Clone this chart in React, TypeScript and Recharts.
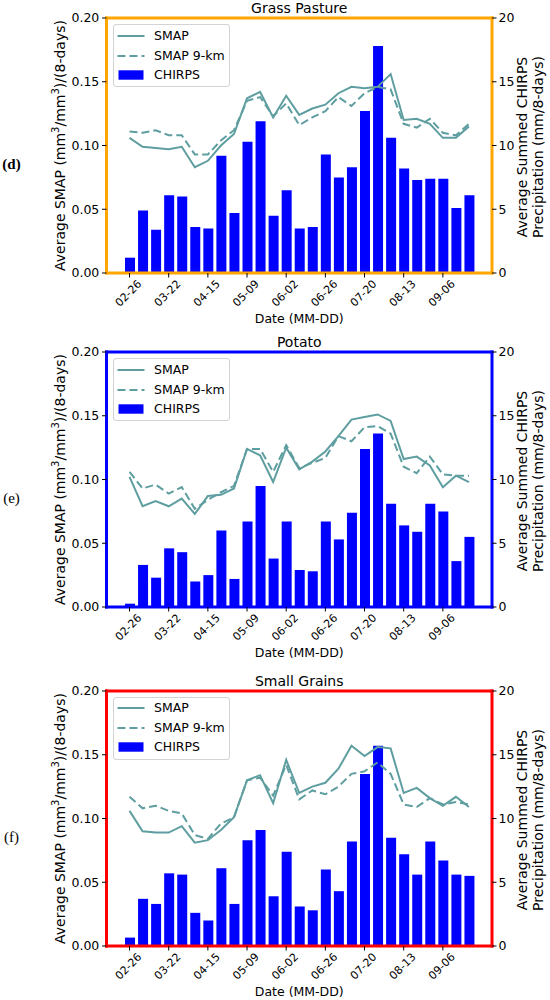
import React from 'react';
import { ComposedChart, Bar, Line, XAxis, YAxis, Legend, CartesianGrid } from 'recharts';

const dates = ['02-26','03-06','03-14','03-22','03-30','04-07','04-15','04-23','05-01','05-09','05-17','05-25','06-02','06-10','06-18','06-26','07-04','07-12','07-20','07-28','08-05','08-13','08-21','08-29','09-06','09-14','09-22'];

const smapD = [0.106,0.099,0.098,0.097,0.099,0.083,0.088,0.100,0.109,0.137,0.142,0.122,0.139,0.124,0.129,0.132,0.141,0.146,0.145,0.146,0.156,0.120,0.121,0.117,0.106,0.106,0.115];
const smap9D = [0.111,0.110,0.112,0.108,0.108,0.093,0.093,0.104,0.112,0.135,0.138,0.123,0.133,0.116,0.122,0.127,0.138,0.131,0.141,0.146,0.144,0.117,0.114,0.121,0.110,0.108,0.117];
const chirpsD = [1.2,4.9,3.4,6.1,6.0,3.6,3.5,9.2,4.7,10.3,11.9,4.5,6.5,3.5,3.6,9.3,7.5,8.3,12.7,17.8,10.6,8.2,7.3,7.4,7.4,5.1,6.1];

const smapE = [0.102,0.079,0.083,0.079,0.085,0.073,0.087,0.088,0.093,0.124,0.119,0.098,0.125,0.108,0.114,0.122,0.134,0.147,0.149,0.151,0.146,0.116,0.118,0.111,0.094,0.103,0.098];
const smap9E = [0.106,0.093,0.096,0.089,0.094,0.077,0.084,0.090,0.095,0.124,0.124,0.106,0.127,0.109,0.113,0.117,0.134,0.130,0.141,0.142,0.136,0.110,0.105,0.118,0.104,0.103,0.103];
const chirpsE = [0.26,3.3,2.3,4.6,4.3,2.0,2.5,6.0,2.2,6.7,9.5,3.8,6.7,2.9,2.8,6.7,5.3,7.4,12.4,13.6,8.1,6.4,5.9,8.1,7.5,3.6,5.5];

const smapF = [0.106,0.090,0.089,0.089,0.094,0.081,0.083,0.091,0.101,0.130,0.134,0.112,0.146,0.120,0.125,0.128,0.139,0.157,0.149,0.156,0.155,0.120,0.124,0.116,0.110,0.117,0.109];
const smap9F = [0.117,0.108,0.110,0.106,0.104,0.087,0.084,0.096,0.101,0.130,0.132,0.118,0.142,0.115,0.122,0.119,0.125,0.135,0.137,0.144,0.135,0.111,0.109,0.116,0.111,0.113,0.111];
const chirpsF = [0.66,3.7,3.3,5.7,5.6,2.6,2.0,6.1,3.3,8.3,9.1,3.9,7.4,3.1,2.8,6.0,4.3,8.2,13.5,15.7,8.5,7.2,5.6,8.2,6.7,5.6,5.5];

const leftTicks = [0, 0.05, 0.1, 0.15, 0.2];
const rightTicks = [0, 5, 10, 15, 20];
const seriesNames = ['SMAP', 'SMAP 9-km', 'CHIRPS'];

const W = 550;
const PLOT_TOP = 18;
const PLOT_H = 255;
const LEFT_W = 106.5;
const RIGHT_W = 58;
const XAXIS_H = 62;
const CH = PLOT_TOP + PLOT_H + XAXIS_H;
const PLOT_CX = (LEFT_W + (W - RIGHT_W)) / 2;
const LINE_COLOR = '#5F9EA0';
const BAR_COLOR = '#0000FF';
const FONT = 'DejaVu Sans';

const DateTick = (props: any) => {
  const { x, y, payload } = props;
  return (
    <g transform={`translate(${x},${y})`}>
      <text transform="translate(-1,16) rotate(-45)" textAnchor="middle" dominantBaseline="central" fontSize={11} fill="#000" fontFamily={FONT}>
        {payload.value}
      </text>
    </g>
  );
};

const XLabel = (props: any) => {
  const vb = props.viewBox || {};
  return (
    <text x={vb.x + vb.width / 2} y={vb.y + 50} textAnchor="middle" fontSize={12.5} fill="#000" fontFamily={FONT}>
      Date (MM-DD)
    </text>
  );
};

const makeLeftLabel = (letter: string, bold: boolean, title: string) => (props: any) => {
  const vb = props.viewBox || {};
  const cy = vb.y + vb.height / 2;
  return (
    <g>
      <text x={PLOT_CX} y={vb.y - 5.5} textAnchor="middle" fontSize={14} fill="#000" fontFamily={FONT}>
        {title}
      </text>
      <text transform={`translate(60,${cy}) rotate(-90)`} textAnchor="middle" dominantBaseline="central" fontSize={14} fill="#000" fontFamily={FONT}>
        Average SMAP (mm<tspan dy={-5} fontSize={10}>3</tspan><tspan dy={5}>/mm</tspan><tspan dy={-5} fontSize={10}>3</tspan><tspan dy={5}>)/(8-days)</tspan>
      </text>
      <text x={11.5} y={cy + 23} textAnchor="middle" fontSize={15} fontWeight={bold ? 'bold' : 'normal'} fill="#000" fontFamily="Liberation Serif">
        {letter}
      </text>
    </g>
  );
};

const RightLabel = (props: any) => {
  const vb = props.viewBox || {};
  const cy = vb.y + vb.height / 2 + 1.5;
  return (
    <g>
      <text transform={`translate(522,${cy}) rotate(-90)`} textAnchor="middle" dominantBaseline="central" fontSize={14} fill="#000" fontFamily={FONT}>
        Average Summed CHIRPS
      </text>
      <text transform={`translate(537.5,${cy}) rotate(-90)`} textAnchor="middle" dominantBaseline="central" fontSize={14} fill="#000" fontFamily={FONT}>
        Precipitation (mm/8-days)
      </text>
    </g>
  );
};

const LegendBox = () => {
  const rowTops = [0.5, 20.5, 39.8];
  return (
    <div style={{ position: 'relative', boxSizing: 'border-box', width: 117, height: 63, border: '1px solid #d3d3d3', borderRadius: 3, background: 'rgba(255,255,255,0.8)', fontFamily: FONT, fontSize: 12.5, color: '#000' }}>
      {seriesNames.map((name, i) => (
        <div key={name} style={{ position: 'absolute', left: 3, top: rowTops[i], height: 20, display: 'flex', alignItems: 'center' }}>
          <svg width={28} height={20} style={{ display: 'block' }}>
            {i === 0 && <line x1={0.5} x2={27.5} y1={10} y2={10} stroke={LINE_COLOR} strokeWidth={2} />}
            {i === 1 && <line x1={0.5} x2={27.5} y1={10} y2={10} stroke={LINE_COLOR} strokeWidth={2} strokeDasharray="8 4" />}
            {i === 2 && <rect x={1.5} y={5.3} width={25} height={9.4} fill={BAR_COLOR} />}
          </svg>
          <span style={{ marginLeft: 9, whiteSpace: 'nowrap', lineHeight: '20px' }}>{name}</span>
        </div>
      ))}
    </div>
  );
};

type PanelProps = {
  top: number; title: string; letter: string; bold: boolean; frame: string;
  smap: number[]; smap9: number[]; chirps: number[];
};

const Panel = ({ top, title, letter, bold, frame, smap, smap9, chirps }: PanelProps) => {
  const data = dates.map((d, i) => ({ date: d, smap: smap[i], smap9: smap9[i], chirps: chirps[i] }));
  const axisLine: any = { stroke: frame, strokeWidth: 3, strokeLinecap: 'square' };
  const tickLine: any = { stroke: '#000', strokeWidth: 1 };
  const tickStyle: any = { fontSize: 12.5, fill: '#000', fontFamily: FONT };
  return (
    <div style={{ position: 'absolute', left: 0, top, width: W, height: CH }}>
      <ComposedChart width={W} height={CH} data={data} margin={{ top: PLOT_TOP, right: 0, bottom: 0, left: 0 }}>
        <CartesianGrid vertical={false} stroke={frame} strokeWidth={3} strokeLinecap="square"
          horizontalCoordinatesGenerator={(p: any) => [p.offset.top]} />
        <XAxis xAxisId="bottom" dataKey="date" interval={2} padding={{ left: 16.5, right: 16.5 }} height={XAXIS_H}
          axisLine={axisLine} tickLine={tickLine} tickSize={4.5} tickMargin={0} tick={<DateTick />} label={<XLabel />} />
        <YAxis yAxisId="left" orientation="left" width={LEFT_W} domain={[0, 0.2]} ticks={leftTicks} allowDataOverflow
          tickFormatter={(v: number) => v.toFixed(2)} axisLine={axisLine} tickLine={tickLine} tickSize={4.5} tickMargin={2.7}
          tick={tickStyle} label={makeLeftLabel(letter, bold, title)} />
        <YAxis yAxisId="right" orientation="right" width={RIGHT_W} domain={[0, 20]} ticks={rightTicks} allowDataOverflow
          axisLine={axisLine} tickLine={tickLine} tickSize={4.5} tickMargin={2} tick={tickStyle} label={<RightLabel />} />
        <Bar xAxisId="bottom" yAxisId="right" dataKey="chirps" name="CHIRPS" fill={BAR_COLOR} barSize={10} isAnimationActive={false} />
        <Line xAxisId="bottom" yAxisId="left" type="linear" dataKey="smap" name="SMAP" stroke={LINE_COLOR} strokeWidth={2} dot={false} activeDot={false} isAnimationActive={false} />
        <Line xAxisId="bottom" yAxisId="left" type="linear" dataKey="smap9" name="SMAP 9-km" stroke={LINE_COLOR} strokeWidth={2} strokeDasharray="8 4" dot={false} activeDot={false} isAnimationActive={false} />
        <Legend layout="vertical" align="center" verticalAlign="middle"
          wrapperStyle={{ left: LEFT_W + 6.5, top: PLOT_TOP + 6, width: 117, height: 63, right: 'auto', bottom: 'auto' }}
          content={() => <LegendBox />} />
      </ComposedChart>
    </div>
  );
};

export default function App() {
  return (
    <div style={{ position: 'absolute', left: 0, top: 0, width: 550, height: 1000, background: '#fff', fontFamily: FONT }}>
      <Panel top={0} title="Grass Pasture" letter="(d)" bold={true} frame="#FFA500" smap={smapD} smap9={smap9D} chirps={chirpsD} />
      <Panel top={334.3} title="Potato" letter="(e)" bold={false} frame="#0000FF" smap={smapE} smap9={smap9E} chirps={chirpsE} />
      <Panel top={672.7} title="Small Grains" letter="(f)" bold={false} frame="#FF0000" smap={smapF} smap9={smap9F} chirps={chirpsF} />
    </div>
  );
}
